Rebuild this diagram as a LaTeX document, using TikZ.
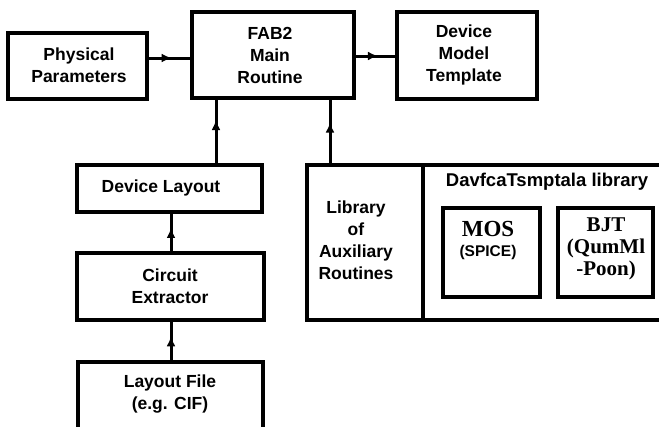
\documentclass[tikz,border=0pt]{standalone}
\usepackage{fontspec}
\setmainfont{Liberation Sans}
\newfontfamily\serifb{Liberation Serif}
\usetikzlibrary{decorations.markings,arrows.meta}
\begin{document}
\begin{tikzpicture}[x=1pt,y=-1pt,
  box/.style={draw, line width=3.2pt, inner sep=0pt},
  thickbox/.style={draw, line width=4.2pt, inner sep=0pt},
  lbl/.style={font=\fontsize{17.5}{22}\selectfont\bfseries, align=center},
  conn/.style={line width=3pt},
  midarrow/.style={postaction={decorate}, decoration={markings, mark=at position #1 with {\arrow{Latex[length=10pt,width=9pt]}}}}
]
\useasboundingbox (0,0) rectangle (659,426);
\clip (0,0) rectangle (659,426);

% boxes
\node[box, minimum width=139pt, minimum height=66pt] (phys) at (77.5,66) {};
\node[lbl] at (79,65) {Physical\\Parameters};

\node[box, minimum width=162pt, minimum height=86pt] (fab) at (273,55) {};
\node[lbl] at (270,55) {FAB2\\Main\\Routine};

\node[box, minimum width=140pt, minimum height=87pt] (dmt) at (467,55.5) {};
\node[lbl] at (464,55) {Device\\Model\\Template};

\node[box, minimum width=185pt, minimum height=47pt] (devl) at (169.5,188.5) {};
\node[lbl] at (161,188) {Device Layout};

\node[box, minimum width=187pt, minimum height=67pt] (circ) at (170.5,286.5) {};
\node[lbl] at (170,286) {Circuit\\Extractor};

\node[box, minimum width=185pt, minimum height=80pt] (lf) at (170.5,402) {};
\node[lbl] at (170,394) {Layout File\\(e.g. CIF)};

\node[box, minimum width=363pt, minimum height=155pt] (big) at (488.5,242.5) {};
\coordinate (dv) at (423,0);
\draw[line width=3.2pt] (dv |- big.north) -- (dv |- big.south);
\node[lbl] at (356,240) {Library\\of\\Auxiliary\\Routines};
\node[font=\fontsize{18.5}{22}\selectfont\bfseries] (dtl) at (547,182) {DavfcaTsmptala library};

\node[thickbox, minimum width=97pt, minimum height=89pt] (mos) at (491.5,252.5) {};
\node[font=\serifb\fontsize{23}{22}\selectfont\bfseries, align=center] at (488,229) {MOS};
\node[font=\fontsize{15.5}{22}\selectfont\bfseries] at (488,252) {(SPICE)};

\node[thickbox, minimum width=95pt, minimum height=89pt] (bjt) at (605.5,252.5) {};
\node[font=\serifb\fontsize{21}{22}\selectfont\bfseries, align=center] at (606,249) {BJT\\(QumMl\\-Poon)};

% connectors
\coordinate (h1) at (0,58);
\coordinate (h2) at (0,56);
\draw[conn, midarrow=0.55] (phys.east |- h1) -- (fab.west |- h1);
\draw[conn, midarrow=0.56] (fab.east |- h2) -- (dmt.west |- h2);

\coordinate (v1) at (216,0);
\coordinate (v2) at (330,0);
\coordinate (v3) at (171,0);
\draw[conn, midarrow=0.68] (v1 |- devl.north) -- (v1 |- fab.south);
\draw[conn, midarrow=0.64] (v2 |- big.north) -- (v2 |- fab.south);
\draw[conn, midarrow=0.62] (v3 |- circ.north) -- (v3 |- devl.south);
\draw[conn, midarrow=0.62] (v3 |- lf.north) -- (v3 |- circ.south);
\end{tikzpicture}
\end{document}
